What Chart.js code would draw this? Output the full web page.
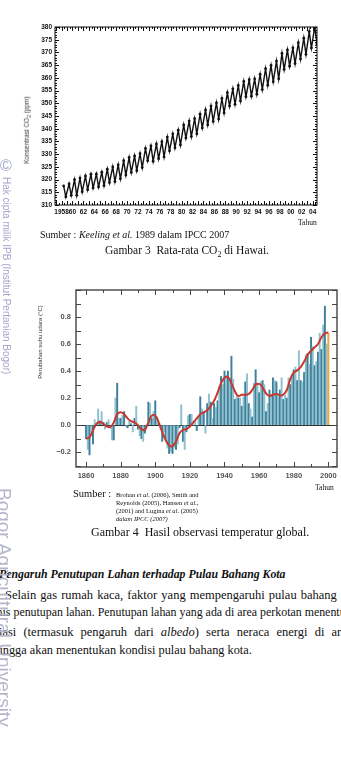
<!DOCTYPE html>
<html>
<head>
<meta charset="utf-8">
<script src="https://cdn.jsdelivr.net/npm/chart.js@4.4.1/dist/chart.umd.min.js"></script>
<style>
html, body { margin: 0; padding: 0; background: #fff; }
body { width: 341px; height: 778px; position: relative; overflow: hidden;
       font-family: "Liberation Serif", "Times New Roman", serif; color: #111; }
canvas { position: absolute; }
.t { position: absolute; white-space: nowrap; line-height: 1; }
.rot { position: absolute; white-space: nowrap; line-height: 1; transform: translate(-50%, -50%) rotate(-90deg);
       font-family: "Liberation Sans", Arial, sans-serif; color: #333; }
.wm { position: absolute; white-space: nowrap; line-height: 1; writing-mode: vertical-rl;
      font-family: "Liberation Sans", Arial, sans-serif; }
</style>
</head>
<body>

<canvas id="co2" width="341" height="200" style="left:0;top:20px"></canvas>
<div class="rot" style="left:28px;top:130px;font-size:6.5px">Konsentrasi CO<sub style="font-size:5px">2</sub> (ppm)</div>
<div class="t" style="left:298px;top:219px;font-size:7.5px">Tahun</div>
<div class="t" style="left:40px;top:229.5px;font-size:10px">Sumber : <i>Keeling et al.</i> 1989 dalam IPCC 2007</div>
<div class="t" style="left:105px;top:245px;font-size:11.5px">Gambar 3&nbsp; Rata-rata CO<sub style="font-size:8px">2</sub> di Hawai.</div>

<canvas id="temp" width="311" height="205" style="left:30px;top:280px"></canvas>
<div class="rot" style="left:40px;top:342px;font-size:6px">Perubahan suhu udara (°C)</div>
<div class="t" style="left:315px;top:483.5px;font-size:7.5px">Tahun</div>
<div class="t" style="left:73px;top:489px;font-size:10.5px">Sumber :</div>
<div class="t" style="left:116px;top:492px;font-size:6.5px">Brohan <i>et al.</i> (2006), Smith and</div>
<div class="t" style="left:116px;top:500px;font-size:6.5px">Reynolds (2005), Hansen <i>et al.</i>,</div>
<div class="t" style="left:116px;top:508px;font-size:6.5px">(2001) and Lugina <i>et al.</i> (2005)</div>
<div class="t" style="left:116px;top:516px;font-size:6.5px"><i>dalam IPCC (2007)</i></div>
<div class="t" style="left:91px;top:526px;font-size:12px">Gambar 4&nbsp; Hasil observasi temperatur global.</div>

<div class="t" style="left:-1px;top:568.5px;font-size:11.8px;font-weight:bold;font-style:italic">Pengaruh Penutupan Lahan terhadap Pulau Bahang Kota</div>
<div class="t" style="left:5px;top:588.5px;font-size:12.5px;word-spacing:1px">Selain gas rumah kaca, faktor yang mempengaruhi pulau bahang kota</div>
<div class="t" style="left:-12px;top:607px;font-size:11.9px">jenis penutupan lahan. Penutupan lahan yang ada di area perkotan menentukan</div>
<div class="t" style="left:-17px;top:625.5px;font-size:12.5px;word-spacing:4px">radiasi (termasuk pengaruh dari <i>albedo</i>) serta neraca energi di area perkotaan</div>
<div class="t" style="left:-17px;top:644px;font-size:12.3px">sehingga akan menentukan kondisi pulau bahang kota.</div>

<div class="t" style="left:0;top:158px;font-size:16px;color:#a4a6cc;font-family:'Liberation Sans',Arial,sans-serif">©</div>
<div class="wm" style="left:1px;top:177px;font-size:10px;color:#a4a6cc">Hak cipta milik IPB (Institut Pertanian Bogor)</div>
<div class="wm" style="left:-5px;top:488px;font-size:19px;color:#b4b6cc">Bogor Agricultural University</div>

<script>
const co2Years = [1958, 1959, 1960, 1961, 1962, 1963, 1964, 1965, 1966, 1967,
                  1968, 1969, 1970, 1971, 1972, 1973, 1974, 1975, 1976, 1977,
                  1978, 1979, 1980, 1981, 1982, 1983, 1984, 1985, 1986, 1987,
                  1988, 1989, 1990, 1991, 1992, 1993, 1994, 1995, 1996, 1997,
                  1998, 1999, 2000, 2001, 2002, 2003, 2004];
const co2Peak = [317.5, 318.3, 320.0, 320.6, 321.4, 322.1, 322.2, 322.9, 324.1, 325.0,
                 325.8, 327.4, 328.7, 329.3, 330.2, 332.3, 333.2, 334.0, 334.9, 336.7,
                 338.0, 339.4, 341.5, 343.0, 344.0, 345.7, 347.4, 348.9, 350.2, 351.9,
                 354.2, 355.7, 357.0, 358.6, 359.3, 359.6, 361.4, 363.6, 364.9, 366.6,
                 369.6, 371.0, 371.8, 373.8, 375.6, 378.2, 380.0];
const co2Low = [313.2, 313.8, 313.8, 315.2, 316.0, 316.7, 317.1, 317.6, 318.8, 319.2,
                320.3, 321.8, 322.8, 323.5, 324.7, 327.4, 327.2, 328.2, 328.9, 331.3,
                332.5, 333.6, 336.3, 336.9, 338.0, 340.3, 341.5, 342.9, 343.8, 346.2,
                348.9, 349.6, 350.9, 352.6, 352.8, 353.6, 355.4, 357.1, 358.5, 359.6,
                363.3, 364.6, 365.6, 367.4, 369.2, 371.7, 373.4];
const co2TickYears = [1958, 1960, 1962, 1964, 1966, 1968, 1970, 1972, 1974, 1976, 1978,
                      1980, 1982, 1984, 1986, 1988, 1990, 1992, 1994, 1996, 1998,
                      2000, 2002, 2004];
const co2TickPpm = [310, 315, 320, 325, 330, 335, 340, 345, 350, 355, 360, 365, 370, 375, 380];

const tempFirstYear = 1860;
const tempAnomaly = [
  -0.10, -0.18, -0.22, -0.06, -0.14, 0.04, 0.01, 0.12, 0.03, 0.10,
   0.02, -0.03, 0.02, 0.04, -0.02, -0.11, -0.11, 0.20, 0.31, 0.05,
   0.05, 0.07, 0.10, -0.01, -0.02, 0.03, 0.01, -0.05, 0.05, 0.14,
  -0.03, -0.08, -0.10, -0.12, -0.06, 0.00, 0.17, 0.16, 0.05, 0.10,
   0.18, 0.06, 0.01, -0.03, -0.12, -0.05, -0.10, -0.17, -0.21, -0.20,
  -0.21, -0.17, -0.18, -0.14, -0.02, 0.15, -0.12, -0.18, -0.05, 0.07,
   0.08, 0.08, 0.00, 0.03, -0.04, 0.06, 0.21, 0.12, 0.10, -0.06,
   0.16, 0.23, 0.17, 0.05, 0.16, 0.13, 0.18, 0.28, 0.36, 0.30,
   0.40, 0.37, 0.40, 0.33, 0.51, 0.34, 0.19, 0.21, 0.20, 0.20,
   0.14, 0.21, 0.32, 0.38, 0.16, 0.12, 0.06, 0.31, 0.41, 0.30,
   0.24, 0.32, 0.33, 0.30, 0.10, 0.16, 0.26, 0.23, 0.35, 0.33,
   0.32, 0.21, 0.26, 0.35, 0.19, 0.22, 0.20, 0.35, 0.30, 0.36,
   0.41, 0.43, 0.33, 0.55, 0.33, 0.32, 0.39, 0.52, 0.53, 0.45,
   0.65, 0.58, 0.44, 0.47, 0.54, 0.68, 0.56, 0.74, 0.88, 0.60,
   0.68];
// smoothed curve (red line)
const smoothYears = [1860, 1862, 1864, 1866, 1868, 1870, 1872, 1874, 1876, 1878, 1880,
                     1882, 1884, 1886, 1888, 1890, 1892, 1894, 1896, 1898, 1900,
                     1902, 1904, 1906, 1908, 1910, 1912, 1914, 1916, 1918, 1920,
                     1922, 1924, 1926, 1928, 1930, 1932, 1934, 1936, 1938, 1940,
                     1942, 1944, 1946, 1948, 1950, 1952, 1954, 1956, 1958, 1960,
                     1962, 1964, 1966, 1968, 1970, 1972, 1974, 1976, 1978, 1980,
                     1982, 1984, 1986, 1988, 1990, 1992, 1994, 1996, 1998, 2000];
const smoothAnomaly = [-0.10, -0.09, -0.04, 0.01, 0.025, 0.01, -0.01, -0.015, 0.02, 0.08, 0.095,
                       0.08, 0.05, 0.03, 0.02, 0.00, -0.03, -0.035, 0.02, 0.07, 0.07,
                       0.02, -0.05, -0.11, -0.15, -0.155, -0.12, -0.06, -0.035, -0.03, -0.01,
                       0.02, 0.05, 0.08, 0.095, 0.11, 0.14, 0.18, 0.24, 0.31, 0.35,
                       0.355, 0.31, 0.25, 0.215, 0.225, 0.225, 0.23, 0.26, 0.30, 0.305,
                       0.28, 0.235, 0.215, 0.225, 0.23, 0.22, 0.225, 0.26, 0.34, 0.39,
                       0.405, 0.43, 0.47, 0.52, 0.55, 0.575, 0.60, 0.65, 0.68, 0.685];
const tempTickYears = [1860, 1880, 1900, 1920, 1940, 1960, 1980, 2000];
const tempTickValues = [-0.2, 0.0, 0.2, 0.4, 0.6, 0.8];

// inward tick marks on all four sides + frame
const innerTicks = {
    id: 'innerTicks',
    afterDatasetsDraw(chart, args, o) {
        const {ctx, chartArea: a, scales} = chart;
        ctx.save();
        ctx.strokeStyle = o.color;
        ctx.lineWidth = 1;
        ctx.beginPath();
        let n = Math.round((o.xTo - o.xFrom) / o.xStep);
        for (let i = 0; i <= n; i++) {
            const px = Math.round(scales.x.getPixelForValue(o.xFrom + i * o.xStep)) + 0.5;
            const len = i % o.xMajorEvery === 0 ? o.major : o.minor;
            ctx.moveTo(px, a.bottom); ctx.lineTo(px, a.bottom - len);
            ctx.moveTo(px, a.top); ctx.lineTo(px, a.top + len);
        }
        n = Math.round((o.yTo - o.yFrom) / o.yStep);
        for (let i = 0; i <= n; i++) {
            const py = Math.round(scales.y.getPixelForValue(o.yFrom + i * o.yStep)) + 0.5;
            const len = i % o.yMajorEvery === 0 ? o.major : o.minor;
            ctx.moveTo(a.left, py); ctx.lineTo(a.left + len, py);
            ctx.moveTo(a.right, py); ctx.lineTo(a.right - len, py);
        }
        ctx.stroke();
        ctx.lineWidth = o.frame;
        ctx.strokeRect(a.left, a.top, a.right - a.left, a.bottom - a.top);
        ctx.restore();
    }
};

const noGrid = {display: false, drawTicks: false};

// ---------- Gambar 3 ----------
const co2Points = [];
co2Years.forEach((yr, i) => {
    co2Points.push({x: yr + 0.38, y: co2Peak[i]});
    co2Points.push({x: yr + 0.78, y: co2Low[i]});
});
const co2Font = {family: '"Liberation Sans", Arial, sans-serif', size: 6.5, weight: 'bold'};

new Chart(document.getElementById('co2'), {
    type: 'line',
    data: {
        datasets: [{
            data: co2Points,
            borderColor: '#111',
            borderWidth: 1.4,
            pointRadius: 1.4,
            pointBackgroundColor: '#111',
            pointBorderWidth: 0,
            tension: 0
        }]
    },
    options: {
        responsive: false,
        animation: false,
        events: [],
        layout: {padding: {left: 0, right: 24, top: 7, bottom: 0}, autoPadding: false},
        plugins: {
            legend: {display: false},
            tooltip: {enabled: false},
            innerTicks: {color: '#111', frame: 1, major: 4, minor: 2,
                         xFrom: 1957, xTo: 2004.5, xStep: 0.5, xMajorEvery: 2,
                         yFrom: 310, yTo: 380, yStep: 1, yMajorEvery: 5}
        },
        scales: {
            x: {
                type: 'linear', min: 1956.8, max: 2004.8,
                afterFit: s => { s.height = 15; },
                afterBuildTicks: s => { s.ticks = co2TickYears.map(v => ({value: v})); },
                grid: noGrid, border: {display: false},
                ticks: {padding: 3, autoSkip: false, maxRotation: 0, color: '#111', font: co2Font,
                        callback: v => v === 1958 ? '1958' : String(v).slice(2)}
            },
            y: {
                min: 310, max: 380,
                afterFit: s => { s.width = 55; },
                afterBuildTicks: s => { s.ticks = co2TickPpm.map(v => ({value: v})); },
                grid: noGrid, border: {display: false},
                ticks: {padding: 3, color: '#111', font: co2Font}
            }
        }
    },
    plugins: [innerTicks]
});

// ---------- Gambar 4 ----------
const tempPoints = tempAnomaly.map((v, i) => ({x: tempFirstYear + i, y: v}));
const smoothPoints = smoothYears.map((yr, i) => ({x: yr, y: smoothAnomaly[i]}));
const barColors = tempAnomaly.map((v, i) =>
    i === tempAnomaly.length - 1 ? '#e8a53a' : (i % 2 ? '#8fc0cd' : '#3f7f9b'));
const tempFont = {family: '"Liberation Sans", Arial, sans-serif', size: 7.5, weight: 'bold'};

new Chart(document.getElementById('temp'), {
    type: 'bar',
    data: {
        datasets: [{
            type: 'line',
            data: smoothPoints,
            borderColor: '#c8372d',
            borderWidth: 2,
            pointRadius: 0,
            tension: 0.4,
            order: 0
        }, {
            type: 'bar',
            data: tempPoints,
            backgroundColor: barColors,
            barThickness: 1.3,
            order: 1
        }]
    },
    options: {
        responsive: false,
        animation: false,
        events: [],
        layout: {padding: {left: 0, right: 4, top: 10, bottom: 0}, autoPadding: false},
        plugins: {
            legend: {display: false},
            tooltip: {enabled: false},
            innerTicks: {color: '#444', frame: 1.4, major: 5, minor: 3,
                         xFrom: 1860, xTo: 2000, xStep: 10, xMajorEvery: 2,
                         yFrom: -0.3, yTo: 1.0, yStep: 0.1, yMajorEvery: 1}
        },
        scales: {
            x: {
                type: 'linear', min: 1854.2, max: 2005, offset: false,
                afterFit: s => { s.height = 18; },
                afterBuildTicks: s => { s.ticks = tempTickYears.map(v => ({value: v})); },
                grid: noGrid, border: {display: false},
                ticks: {padding: 4, autoSkip: false, maxRotation: 0, color: '#555', font: tempFont,
                        callback: v => String(v)}
            },
            y: {
                min: -0.31, max: 1.0,
                afterFit: s => { s.width = 46; },
                afterBuildTicks: s => { s.ticks = tempTickValues.map(v => ({value: v})); },
                grid: {drawTicks: false, color: c => c.tick && c.tick.value === 0 ? '#333' : 'rgba(0,0,0,0)'},
                border: {display: false},
                ticks: {padding: 5, color: '#555', font: tempFont,
                        callback: v => v.toFixed(1).replace('-', '\u2212')}
            }
        }
    },
    plugins: [innerTicks]
});
</script>
</body>
</html>
